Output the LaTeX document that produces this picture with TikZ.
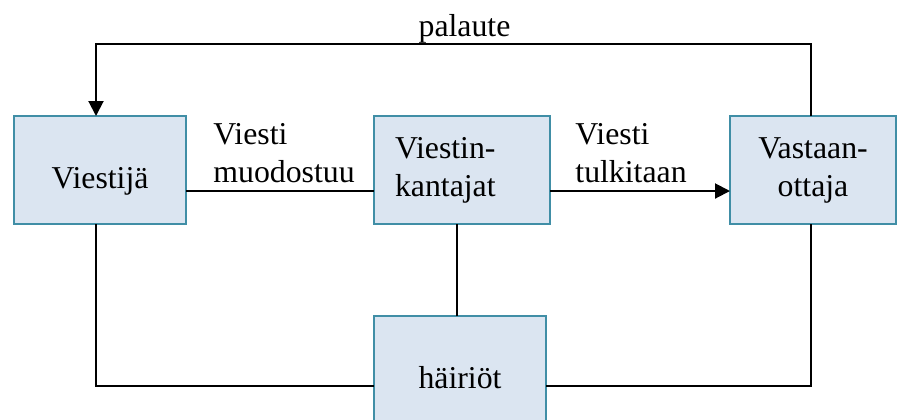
\documentclass[tikz,border=0pt]{standalone}
\usepackage{fontspec}
\setmainfont{Liberation Serif}
\usetikzlibrary{arrows.meta,calc}
\definecolor{boxfill}{RGB}{219,229,241}
\definecolor{boxline}{RGB}{64,142,166}
\begin{document}
\begin{tikzpicture}[x=0.5pt,y=-0.5pt,
  font=\fontsize{15.9}{19}\selectfont,
  box/.style={draw=boxline,fill=boxfill,line width=1.2pt,inner sep=0pt,outer sep=0pt,
    minimum height=54pt},
  conn/.style={draw=black,line width=1pt},
  tip/.style={-{Triangle[length=7.5pt,width=7.5pt]}},
  lbl/.style={inner sep=0pt,align=left}]
\useasboundingbox (0,0) rectangle (898,419);
\node[box,minimum width=86pt,text height=18pt,text depth=0pt] (A) at (100,170) {Viestijä};
\node[box,minimum width=88pt,align=left,text width=67pt,inner xsep=10.5pt] (B) at (462,170) {Viestin-\\kantajat};
\node[box,minimum width=83pt,align=center] (C) at (813,170) {Vastaan-\\ottaja};
\node[box,minimum width=86pt,text height=18pt,text depth=0pt] (D) at (460,370) {häiriöt};
\node[lbl,anchor=north west] (L1) at (213,123) {Viesti\\muodostuu};
\node[lbl,anchor=north west] (L2) at (575,123) {Viesti\\tulkitaan};
\node[inner sep=0pt,anchor=base] (L3) at (464.5,36) {palaute};
\coordinate (AR) at ([yshift=-10.5pt]A.east);
\coordinate (AT) at ([xshift=-2pt]A.north);
\coordinate (AB) at ([xshift=-2pt]A.south);
\coordinate (CT) at ([xshift=-1pt]C.north);
\coordinate (CB) at ([xshift=-1pt]C.south);
\coordinate (BB) at ([xshift=-2.5pt]B.south);
\coordinate (DL) at ([yshift=-8pt]D.west);
\coordinate (DR) at ([yshift=-8pt]D.east);
\draw[conn,tip] (CT) -- ++(0,-72) -| (AT);
\draw[conn] (AR) -- (AR -| B.west);
\draw[conn,tip] (AR -| B.east) -- (AR -| C.west);
\draw[conn] (BB) -- (BB |- D.north);
\draw[conn] (AB) |- (DL);
\draw[conn] (CB) |- (DR);
\end{tikzpicture}
\end{document}
